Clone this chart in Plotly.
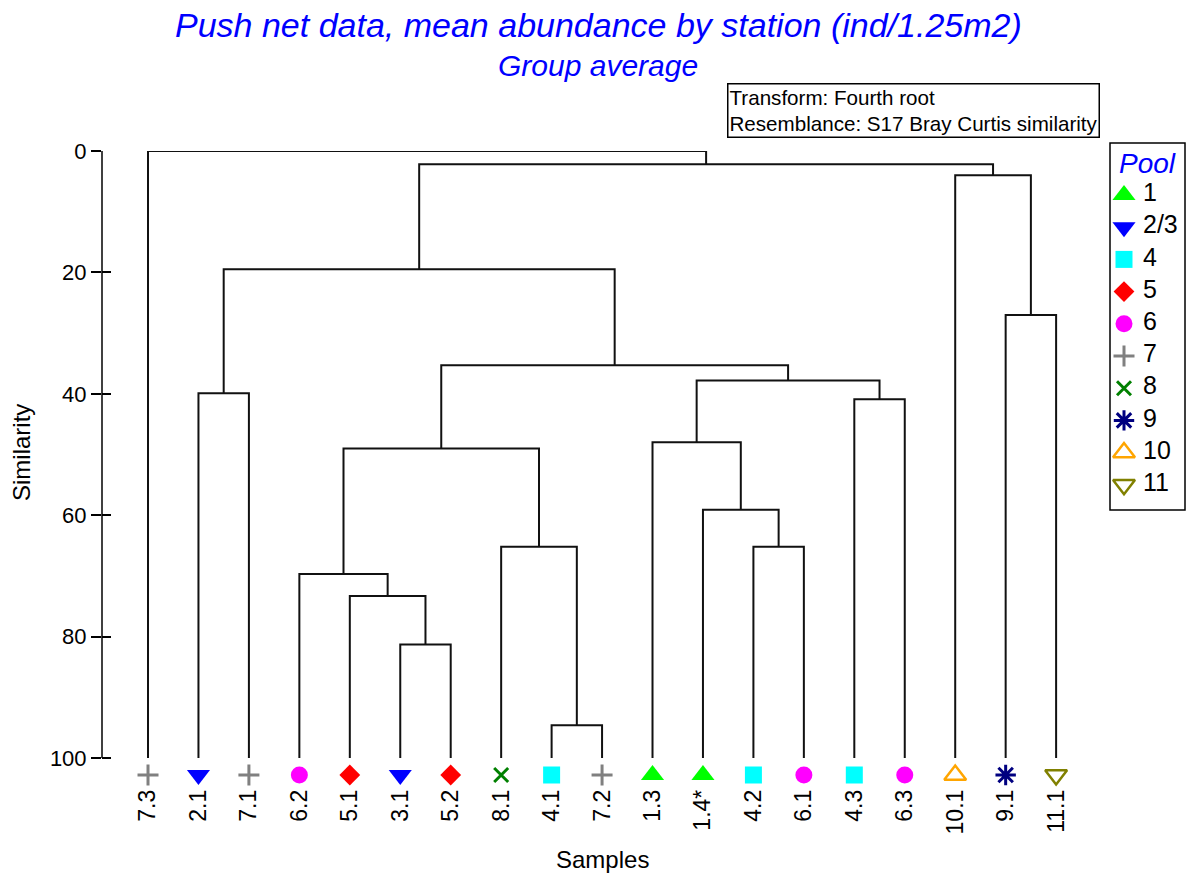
import plotly.graph_objects as go

# ---- data ----
leaves = ["7.3", "2.1", "7.1", "6.2", "5.1", "3.1", "5.2", "8.1", "4.1", "7.2",
          "1.3", "1.4*", "4.2", "6.1", "4.3", "6.3", "10.1", "9.1", "11.1"]
leaf_pool = ["7", "2/3", "7", "6", "5", "2/3", "5", "8", "4", "7",
             "1", "1", "4", "6", "4", "6", "10", "9", "11"]
# merges: (child a, child b, similarity); leaves are 0..18, new nodes 19, 20, ...
merge_a = [5, 4, 3, 8, 7, 21, 1, 12, 11, 10, 14, 28, 24, 25, 17, 16, 32, 0]
merge_b = [6, 19, 20, 9, 22, 23, 2, 13, 26, 27, 15, 29, 30, 31, 18, 33, 34, 35]
merge_sim = [81.3, 73.3, 69.7, 94.6, 65.2, 49.0, 39.9, 65.2, 59.1, 48.0,
             40.9, 37.8, 35.3, 19.5, 27.0, 4.0, 2.2, 0.0]

pools = ["1", "2/3", "4", "5", "6", "7", "8", "9", "10", "11"]
pool_symbol = ["triangle-up", "triangle-down", "square", "diamond", "circle",
               "cross-thin", "x-thin", "asterisk", "triangle-up-open", "triangle-down-open"]
pool_color = ["#00FF00", "#0000FF", "#00FFFF", "#FF0000", "#FF00FF",
              "#808080", "#008000", "#000080", "#FFA500", "#808000"]
pool_size = [20, 20, 17, 16, 17, 15, 14, 17, 19, 19]

yticks = [0, 20, 40, 60, 80, 100]
LEAF_SIM = 100.0
MARKER_SIM = 102.8

# ---- build dendrogram coordinates ----
node_x = [i + 1 for i in range(len(leaves))]
node_h = [LEAF_SIM] * len(leaves)
lx, ly = [], []
for a, b, h in zip(merge_a, merge_b, merge_sim):
    xa, xb = node_x[a], node_x[b]
    lx += [xa, xa, xb, xb, None]
    ly += [node_h[a], h, h, node_h[b], None]
    node_x.append((xa + xb) / 2)
    node_h.append(h)

FONT = "Liberation Sans, Arial, sans-serif"
W, H = 1189, 874


def px(x):
    return x / W


def py(y):
    return (H - y) / H


def marker_style(sym, col, sz):
    m = dict(symbol=sym, size=sz, color=col)
    if sym in ("cross-thin", "x-thin", "asterisk"):
        m["line"] = dict(color=col, width=3)
    elif sym.endswith("-open"):
        m["line"] = dict(color=col, width=2.5)
    else:
        m["line"] = dict(width=0)
    return m


fig = go.Figure()
fig.add_trace(go.Scatter(x=lx, y=ly, mode="lines", line=dict(color="#111111", width=2),
                         showlegend=False, hoverinfo="skip"))

for p, sym, col, sz in zip(pools, pool_symbol, pool_color, pool_size):
    xs = [i + 1 for i, lp in enumerate(leaf_pool) if lp == p]
    fig.add_trace(go.Scatter(x=xs, y=[MARKER_SIM] * len(xs), mode="markers",
                             marker=marker_style(sym, col, sz), showlegend=False,
                             cliponaxis=False, hoverinfo="skip"))

# y-axis ticks crossing the axis line: second axis with inside ticks
fig.add_trace(go.Scatter(x=[None], y=[None], yaxis="y2", showlegend=False))

# ---- legend drawn on its own small axes ----
LEG_FIRST, LEG_STEP = 52, 32.2
leg_y = [LEG_FIRST + LEG_STEP * i for i in range(len(pools))]
for p, sym, col, sz, yy in zip(pools, pool_symbol, pool_color, pool_size, leg_y):
    fig.add_trace(go.Scatter(x=[14], y=[yy], mode="markers", marker=marker_style(sym, col, sz),
                             xaxis="x3", yaxis="y3", showlegend=False, cliponaxis=False,
                             hoverinfo="skip"))
fig.add_trace(go.Scatter(x=[33] * len(pools), y=leg_y, mode="text", text=pools,
                         textposition="middle right",
                         textfont=dict(size=25, family=FONT, color="black"),
                         xaxis="x3", yaxis="y3", showlegend=False, cliponaxis=False,
                         hoverinfo="skip"))

Y0_PX, Y100_PX = 151.0, 758.0
unit = (Y100_PX - Y0_PX) / 100.0
YBOT = 104.3
bottom_px = Y0_PX + YBOT * unit

hidden = dict(visible=False, fixedrange=True)
fig.update_layout(
    width=W, height=H,
    margin=dict(l=0, r=0, t=0, b=0, pad=0),
    paper_bgcolor="white", plot_bgcolor="white",
    font=dict(family=FONT, color="black"),
    showlegend=False,
    xaxis=dict(domain=[px(102), px(1100)], range=[0.088, 19.87], showgrid=False,
               zeroline=False, showline=False, automargin=False,
               tickmode="array", tickvals=[i + 1 for i in range(len(leaves))], ticktext=leaves,
               tickangle=-90, ticks="",
               tickfont=dict(size=23, family=FONT, color="black")),
    yaxis=dict(domain=[py(bottom_px), py(Y0_PX)], range=[YBOT, 0], showgrid=False,
               zeroline=False, showline=False, automargin=False,
               ticks="outside", ticklen=10, tickwidth=1.5,
               tickcolor="black", tickmode="array", tickvals=yticks,
               tickfont=dict(size=22, family=FONT, color="black")),
    yaxis2=dict(range=[YBOT, 0], overlaying="y", side="left", showgrid=False, zeroline=False,
                showline=False, ticks="inside", ticklen=9, tickwidth=1.5, tickcolor="black",
                tickmode="array", tickvals=yticks, showticklabels=False, automargin=False),
    xaxis3=dict(domain=[px(1110), px(1185)], range=[0, 75], anchor="y3", **hidden),
    yaxis3=dict(domain=[py(510), py(143)], range=[367, 0], anchor="x3", **hidden),
)

# y-axis line only from 0 to 100
fig.add_shape(type="line", xref="x domain", yref="y", x0=0, x1=0, y0=0, y1=100,
              line=dict(color="black", width=1.5))
# legend box
fig.add_shape(type="rect", xref="x3 domain", yref="y3 domain", x0=0, x1=1, y0=0, y1=1,
              line=dict(color="black", width=1.5), fillcolor="rgba(0,0,0,0)")
fig.add_annotation(text="<i>Pool</i>", xref="x3 domain", yref="y3", x=0.5, y=21,
                   xanchor="center", yanchor="middle", showarrow=False,
                   font=dict(size=28, family=FONT, color="#0000FF"))

fig.add_annotation(text="<i>Push net data, mean abundance by station (ind/1.25m2)</i>",
                   xref="paper", yref="paper", x=px(598.5), y=py(25),
                   xanchor="center", yanchor="middle", showarrow=False,
                   font=dict(size=34, family=FONT, color="#0000FF"))
fig.add_annotation(text="<i>Group average</i>",
                   xref="paper", yref="paper", x=px(597.5), y=py(66),
                   xanchor="center", yanchor="middle", showarrow=False,
                   font=dict(size=30, family=FONT, color="#0000FF"))
fig.add_annotation(text="Transform: Fourth root<br>Resemblance: S17 Bray Curtis similarity",
                   xref="paper", yref="paper", x=px(727), y=py(83),
                   xanchor="left", yanchor="top", align="left", showarrow=False,
                   bordercolor="black", borderwidth=1.5, borderpad=1, bgcolor="white",
                   font=dict(size=20.6, family=FONT, color="black"))
fig.add_annotation(text="Similarity", xref="paper", yref="paper",
                   x=px(22), y=py(453), textangle=-90,
                   xanchor="center", yanchor="middle", showarrow=False,
                   font=dict(size=24, family=FONT, color="black"))
fig.add_annotation(text="Samples", xref="paper", yref="paper",
                   x=px(602), y=py(859),
                   xanchor="center", yanchor="middle", showarrow=False,
                   font=dict(size=24, family=FONT, color="black"))

fig.write_html("out.html")
